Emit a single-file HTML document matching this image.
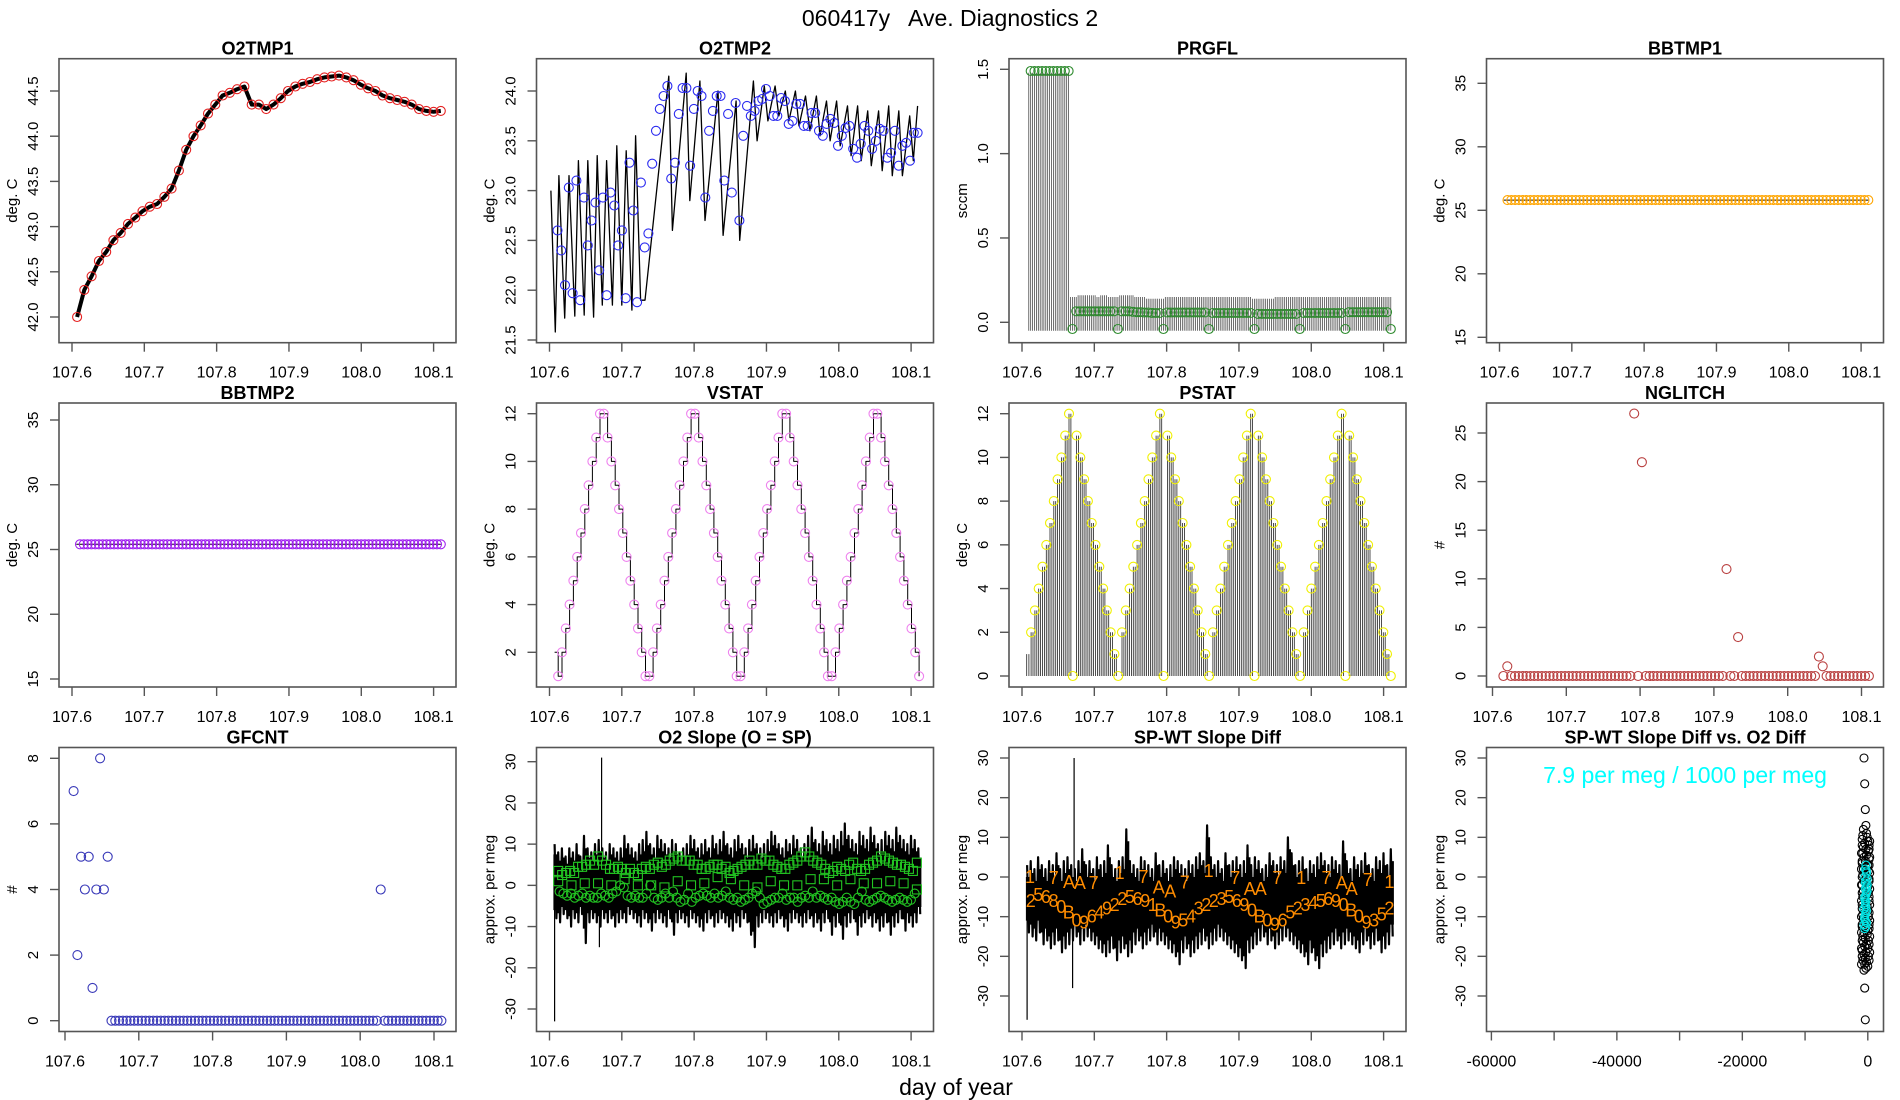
<!DOCTYPE html>
<html><head><meta charset="utf-8"><title>060417y Ave. Diagnostics 2</title>
<style>html,body{margin:0;padding:0;background:#fff}svg{display:block;font-family:"Liberation Sans",Arial,sans-serif}</style>
</head><body>
<svg id="root" width="1900" height="1100" viewBox="0 0 1900 1100" xmlns="http://www.w3.org/2000/svg">
<rect x="0" y="0" width="1900" height="1100" fill="#fff"/>
<text x="950" y="26" text-anchor="middle" font-size="23" fill="#000" style="white-space:pre">060417y   Ave. Diagnostics 2</text>
<text x="956" y="1095" text-anchor="middle" font-size="23" fill="#000">day of year</text>
</svg>
<script>
// ---------------- data ----------------
const dayTicks = [107.6, 107.7, 107.8, 107.9, 108.0, 108.1];
const dayTickLabels = ["107.6", "107.7", "107.8", "107.9", "108.0", "108.1"];

const o2t1Vals = [42.0,42.3,42.45,42.62,42.72,42.85,42.93,43.03,43.1,43.17,43.22,43.25,43.33,43.42,43.62,43.85,44.0,44.12,44.25,44.35,44.45,44.48,44.52,44.55,44.35,44.35,44.3,44.35,44.42,44.5,44.55,44.58,44.6,44.63,44.65,44.66,44.67,44.65,44.62,44.57,44.53,44.5,44.45,44.42,44.4,44.38,44.35,44.3,44.28,44.27,44.28];

const o2t2Times = [107.602,107.608,107.613,107.621,107.627,107.635,107.640,107.648,107.653,107.661,107.666,107.673,107.679,107.687,107.693,107.700,107.706,107.714,107.719,107.726,107.732,107.765,107.770,107.789,107.794,107.808,107.815,107.833,107.840,107.858,107.863,107.882,107.887,107.897,107.902,107.912,107.917,107.926,107.931,107.940,107.945,107.954,107.960,107.969,107.974,107.983,107.988,107.997,108.002,108.012,108.017,108.026,108.031,108.040,108.045,108.055,108.060,108.069,108.074,108.083,108.088,108.098,108.103,108.109];
const o2t2Vals = [23.0,21.58,23.15,21.72,23.15,21.74,23.3,21.75,23.3,21.73,23.35,21.85,23.3,21.85,23.45,21.85,23.4,21.8,23.55,21.9,21.9,24.15,22.6,24.18,22.9,24.1,22.7,24.0,22.55,23.9,22.5,24.1,23.5,24.05,23.7,24.05,23.75,24.0,23.7,24.0,23.65,23.95,23.6,23.95,23.55,23.9,23.5,23.9,23.45,23.85,23.35,23.85,23.3,23.8,23.25,23.8,23.2,23.85,23.15,23.8,23.15,23.75,23.3,23.85];
const o2t2Circles = [22.6,22.4,22.05,23.03,21.97,23.1,21.9,22.93,22.45,22.7,22.88,22.2,22.93,21.95,22.98,22.85,22.45,22.6,21.92,23.28,22.8,21.88,23.08,22.43,22.57,23.27,23.6,23.82,23.95,24.05,23.12,23.28,23.77,24.03,24.03,23.25,23.82,24.0,23.95,22.93,23.6,23.8,23.95,23.95,23.1,23.77,22.98,23.88,22.7,23.55,23.85,23.75,23.8,23.9,23.92,24.02,23.95,23.75,23.75,23.93,23.9,23.67,23.7,23.87,23.87,23.65,23.65,23.78,23.78,23.6,23.55,23.67,23.72,23.68,23.45,23.55,23.63,23.65,23.42,23.33,23.47,23.65,23.6,23.42,23.5,23.62,23.6,23.33,23.38,23.6,23.25,23.45,23.48,23.3,23.58,23.58];

const prgflVals = [1.49,1.49,1.49,1.49,1.49,1.49,1.49,1.49,1.49,1.49,1.49,-0.04,0.065,0.065,0.065,0.065,0.065,0.065,0.065,0.065,0.065,0.065,0.065,-0.04,0.065,0.065,0.065,0.062,0.06,0.06,0.058,0.058,0.056,0.055,0.055,-0.04,0.058,0.058,0.058,0.058,0.058,0.058,0.058,0.058,0.058,0.058,0.058,-0.04,0.055,0.055,0.055,0.055,0.055,0.055,0.055,0.055,0.055,0.055,0.055,-0.04,0.05,0.05,0.05,0.05,0.05,0.05,0.05,0.05,0.05,0.05,0.05,-0.04,0.055,0.055,0.055,0.055,0.055,0.055,0.055,0.055,0.055,0.055,0.055,-0.04,0.06,0.06,0.06,0.06,0.06,0.06,0.06,0.06,0.06,0.06,0.06,-0.04];
const prgflPeak = [1.48,1.48,1.48,1.48,1.48,1.48,1.48,1.48,1.48,1.48,1.48,0.15,0.15,0.16,0.16,0.16,0.16,0.16,0.15,0.16,0.16,0.15,0.15,0.15,0.16,0.16,0.16,0.16,0.15,0.15,0.15,0.14,0.14,0.14,0.14,0.14,0.15,0.15,0.15,0.15,0.15,0.15,0.15,0.15,0.15,0.15,0.15,0.15,0.15,0.15,0.15,0.15,0.15,0.15,0.15,0.15,0.15,0.15,0.15,0.14,0.14,0.14,0.14,0.14,0.14,0.15,0.15,0.15,0.15,0.15,0.15,0.15,0.15,0.15,0.15,0.15,0.15,0.15,0.15,0.15,0.15,0.15,0.15,0.15,0.15,0.15,0.15,0.15,0.15,0.15,0.15,0.15,0.15,0.15,0.15,0.15];
const prgflFloor = -0.05;

const bbtmp1Vals = [25.8,25.8,25.8,25.8,25.8,25.8,25.8,25.8,25.8,25.8,25.8,25.8,25.8,25.8,25.8,25.8,25.8,25.8,25.8,25.8,25.8,25.8,25.8,25.8,25.8,25.8,25.8,25.8,25.8,25.8,25.8,25.8,25.8,25.8,25.8,25.8,25.8,25.8,25.8,25.8,25.8,25.8,25.8,25.8,25.8,25.8,25.8,25.8,25.8,25.8,25.8,25.8,25.8,25.8,25.8,25.8,25.8,25.8,25.8,25.8,25.8,25.8,25.8,25.8,25.8,25.8,25.8,25.8,25.8,25.8,25.8,25.8,25.8,25.8,25.8,25.8,25.8,25.8,25.8,25.8,25.8,25.8,25.8,25.8,25.8,25.8,25.8,25.8,25.8,25.8,25.8,25.8,25.8,25.8,25.8,25.8];
const bbtmp2Vals = [25.4,25.4,25.4,25.4,25.4,25.4,25.4,25.4,25.4,25.4,25.4,25.4,25.4,25.4,25.4,25.4,25.4,25.4,25.4,25.4,25.4,25.4,25.4,25.4,25.4,25.4,25.4,25.4,25.4,25.4,25.4,25.4,25.4,25.4,25.4,25.4,25.4,25.4,25.4,25.4,25.4,25.4,25.4,25.4,25.4,25.4,25.4,25.4,25.4,25.4,25.4,25.4,25.4,25.4,25.4,25.4,25.4,25.4,25.4,25.4,25.4,25.4,25.4,25.4,25.4,25.4,25.4,25.4,25.4,25.4,25.4,25.4,25.4,25.4,25.4,25.4,25.4,25.4,25.4,25.4,25.4,25.4,25.4,25.4,25.4,25.4,25.4,25.4,25.4,25.4,25.4,25.4,25.4,25.4,25.4,25.4];

const vstatStart = 2;
const vstatVals = [1,2,3,4,5,6,7,8,9,10,11,12,12,11,10,9,8,7,6,5,4,3,2,1,1,2,3,4,5,6,7,8,9,10,11,12,12,11,10,9,8,7,6,5,4,3,2,1,1,2,3,4,5,6,7,8,9,10,11,12,12,11,10,9,8,7,6,5,4,3,2,1,1,2,3,4,5,6,7,8,9,10,11,12,12,11,10,9,8,7,6,5,4,3,2,1];
const pstatStart = 1;
const pstatVals = [2,3,4,5,6,7,8,9,10,11,12,0,11,10,9,8,7,6,5,4,3,2,1,0,2,3,4,5,6,7,8,9,10,11,12,0,11,10,9,8,7,6,5,4,3,2,1,0,2,3,4,5,6,7,8,9,10,11,12,0,11,10,9,8,7,6,5,4,3,2,1,0,2,3,4,5,6,7,8,9,10,11,12,0,11,10,9,8,7,6,5,4,3,2,1,0];

const nglitchVals = [0,1,0,0,0,0,0,0,0,0,0,0,0,0,0,0,0,0,0,0,0,0,0,0,0,0,0,0,0,0,0,0,0,0,27,0,22,0,0,0,0,0,0,0,0,0,0,0,0,0,0,0,0,0,0,0,0,0,11,0,0,4,0,0,0,0,0,0,0,0,0,0,0,0,0,0,0,0,0,0,0,0,2,1,0,0,0,0,0,0,0,0,0,0,0,0];
const gfcntVals = [7,2,5,4,5,1,4,8,4,5,0,0,0,0,0,0,0,0,0,0,0,0,0,0,0,0,0,0,0,0,0,0,0,0,0,0,0,0,0,0,0,0,0,0,0,0,0,0,0,0,0,0,0,0,0,0,0,0,0,0,0,0,0,0,0,0,0,0,0,0,0,0,0,0,0,0,0,0,0,0,0,4,0,0,0,0,0,0,0,0,0,0,0,0,0,0,0,0];

const o2Hi = [10,8,9,7,9,8,10,7,12,9,8,10,11,9,8,10,9,8,9,12,10,9,8,10,11,13,10,9,12,11,10,9,11,10,8,9,10,12,11,9,10,11,9,12,10,11,13,10,9,11,12,10,9,11,12,10,9,10,11,13,12,10,9,11,10,12,11,9,10,12,14,11,10,13,11,10,12,11,13,15,12,11,10,13,12,11,14,12,10,11,13,12,11,14,12,11,10,12,11,9];
const o2Lo = [-8,-9,-7,-8,-10,-8,-9,-7,-14,-9,-8,-9,-10,-8,-9,-8,-10,-9,-8,-9,-7,-8,-9,-10,-8,-9,-11,-9,-8,-9,-10,-8,-12,-9,-8,-9,-10,-8,-9,-10,-11,-9,-8,-10,-9,-8,-9,-10,-11,-9,-10,-8,-9,-12,-15,-10,-9,-8,-9,-10,-9,-8,-10,-11,-9,-8,-9,-10,-9,-8,-10,-9,-11,-9,-8,-12,-10,-9,-13,-10,-9,-8,-12,-10,-9,-8,-10,-9,-11,-10,-9,-12,-10,-9,-8,-11,-9,-10,-9,-7];
const o2SpikeT = [107.607, 107.672, 107.669];
const o2SpikeV = [-33, 31, -15];
const o2SqHi = [3.5,2.5,3,3.5,3,4.5,4.5,5,6,5,7,6,5,4,4,4.5,4,3,4,3,2.5,4,4.5,4,5,5.5,4.5,5,6,6.5,7,6,6,6,5,5,4,4,4.5,5,5,4,4.5,3,3.5,4,4.5,5,6,5,5,6.5,6,6,5,4.5,4,4,5,5.5,6,7,8,7,6,5.5,5,4,3,3.5,4.5,4,3.5,5,5.5,4,3.5,4,5,5.5,6,7,6.5,6,5.5,5,5,4.5,4,3.5,5.5];
const o2SqLo = [1,0,0.5,0.5,0,1.5,0,0,-0.5,1,0,0.5,2,1.5,0,-0.5,1,0,0,1.5,1.5,0,1.5,0.5,0.5,1,0.5,-1];
const o2Ci = [-1.5,-2,-2.5,-2,-3,-2.5,-2,-3,-2.5,-3,-3,-2,-2.5,-3,-2,-1.5,0,-0.5,-2.5,-3,-2.5,-3,-3,-2,0,-3,-3.5,-3,-2,-3,-1.5,-3,-4,-3.5,-2,-4,-3,-2.5,-2,-2.5,-3,-2,-3,-2.5,-1.5,-3,-3.5,-3,-4,-3.5,-3,-2,-1.5,-3,-4.5,-4,-3.5,-3,-3,-2,-3.5,-3,-3,-4,-3,-2.5,-3,-1.5,-3,-2.5,-3,-3.5,-3,-4,-4.5,-4,-3,-4,-4.5,-3,-1.5,-3.5,-4,-3.5,-3,-2.5,-3,-3.5,-4,-3.5,-3,-3.5,-4,-3.5,-2];

const spHi = [3,4,2,5,3,2,4,3,6,2,4,5,3,2,4,7,3,4,2,5,3,4,8,3,2,4,5,12,4,3,2,5,4,3,2,6,3,4,2,3,5,4,3,2,4,3,5,6,4,13,5,3,4,2,6,3,4,5,3,4,8,3,5,4,2,3,6,4,3,5,4,10,6,3,4,5,2,4,3,5,6,4,3,5,4,3,9,4,2,5,3,4,6,3,2,5,4,6,3,7];
const spLo = [-14,-15,-16,-14,-17,-16,-18,-17,-16,-19,-18,-17,-16,-15,-17,-16,-15,-16,-17,-18,-19,-20,-19,-18,-21,-19,-18,-20,-19,-17,-16,-18,-17,-16,-15,-17,-16,-17,-18,-19,-20,-22,-19,-18,-20,-19,-18,-17,-16,-18,-17,-16,-15,-16,-17,-18,-19,-20,-21,-23,-19,-18,-17,-16,-15,-17,-16,-18,-17,-16,-15,-16,-17,-18,-19,-20,-22,-19,-21,-23,-20,-19,-18,-17,-16,-18,-17,-16,-17,-18,-19,-17,-16,-18,-17,-16,-19,-18,-17,-15];
const spSpikeT = [107.607, 107.672, 107.670];
const spSpikeV = [-36, 30, -28];
const spTopT = [107.611,107.644,107.665,107.680,107.699,107.735,107.768,107.789,107.805,107.825,107.858,107.895,107.915,107.930,107.953,107.986,108.021,108.042,108.056,108.078,108.108];
const spTopCh = ["1","7","A","A","7","1","7","A","A","7","1","7","A","A","7","1","7","A","A","7","1"];
const spTopV = [0,-0.3,-1.2,-1.5,-1.5,1,0,-2.7,-3.7,-1.4,1.5,-0.2,-3,-3,-0.2,-0.3,-0.2,-1.5,-3,-0.8,-1.2];
const spLoCh = ["2","5","6","8","0","B","0","9","6","4","9","2","2","5","6","9","1","B","0","9","5","4","3","2","2","3","5","6","9","0","B","0","9","6","5","2","3","4","5","6","9","0","B","0","9","3","5","2"];
const spLoV = [-6,-4.5,-5,-6,-7.5,-9,-11,-11.5,-10,-9,-8,-7,-5.5,-5,-5.5,-6,-7,-8.5,-10,-11.5,-11,-10,-8,-7,-6,-5.5,-5,-6,-7,-8.5,-10,-11,-12,-11,-9,-8,-7,-6.5,-6,-5.5,-6,-7,-8.5,-10,-11.5,-11,-9.5,-8];

const scatTicks = [-60000,-50000,-40000,-30000,-20000,-10000,0];
const scatTickLabels = ["-60000","","-40000","","-20000","","0"];
const scatY = [30,23.5,17,13,12,11,10.5,10,9.5,9,8.5,8,7.5,7,6.5,6,5.5,5,4.5,4,3.5,3,2.5,2,1.5,1,0.5,0,-0.5,-1,-1.5,-2,-2.5,-3,-3.5,-4,-4.5,-5,-5.5,-6,-6.5,-7,-7.5,-8,-8.5,-9,-9.5,-10,-10.5,-11,-11.5,-12,-12.5,-13,-13.5,-14,-14.5,-15,-15.5,-16,-16.5,-17,-17.5,-18,-18.5,-19,-19.5,-20,-20.5,-21,-21.5,-22,-22.5,-23,-23.5,-28,-36];
const scatX = [-600,-500,-400,-300,-700,-200,-800,-100,-900,0,-500,200,-700,-300,100,-800,-200,-600,200,-400,-900,0,-300,-700,100,-500,-800,-100,200,-600,-300,-900,0,-400,-700,100,-200,-800,-500,200,-300,-900,-100,-600,0,-400,-800,100,-700,-200,-500,200,-900,-300,0,-600,-100,-800,-400,100,-700,-200,-500,0,-900,-300,-600,100,-400,-800,-200,-500,0,-300,-600,-500,-400];
const scatY2 = [9,7,5,3,1,-1,-3,-5,-7,-9,-11,-13,-15,-17,-19,-21,8,4,0,-4,-8,-12,-16,-20,6,2,-2,-6,-10,-14,-18,-22];
const scatX2 = [300,200,300,200,300,200,300,200,300,200,300,200,300,200,300,200,-900,-900,-900,-900,-900,-900,-900,-900,-1000,-1000,-1000,-1000,-1000,-1000,-1000,-1000];
const cyY = [3,2,1,0,-1,-2,-3,-4,-5,-6,-7,-8,-9,-10,-11,-12,-13,-0.5,-2.5,-4.5,-6.5,-8.5,-10.5,-12.5,1.5,-1.5,-3.5,-5.5,-7.5,-9.5,-11.5];
const cyX = [-300,-400,-200,-500,-300,-100,-400,-200,-500,-300,-400,-600,-300,-500,-400,-600,-500,-100,-200,-300,-400,-200,-500,-300,-200,-400,-100,-500,-300,-400,-200];

// ---------------- drawing ----------------
const NS = 'http://www.w3.org/2000/svg';
const root = document.getElementById('root');
const COLS = [59, 536.5, 1009, 1486.5], ROWS = [58.7, 403, 747.5], W = 397, H = 284;

function mk(tag, parent) { const e = document.createElementNS(NS, tag); parent.appendChild(e); return e; }
function mkX(L, r0, r1) { return v => L + r0 + (v - 107.6) / 0.5 * (r1 - r0); }
function mkY(v1, p1, v2, p2) { return v => p1 + (v - v1) * (p2 - p1) / (v2 - v1); }
function tAt(i, n, t0, t1) { return t0 + i * (t1 - t0) / (n - 1); }

function panel(cfg) {
  const g = mk('g', root);
  
  
  const L = COLS[cfg.c], T = ROWS[cfg.r], B = T + H;
  const plot = mk('g', g);
  
  
  const box = mk('rect', g);
  box.setAttribute('x', L); box.setAttribute('y', T); box.setAttribute('width', W); box.setAttribute('height', H);
  box.setAttribute('fill', 'none'); box.setAttribute('stroke', '#555'); box.setAttribute('stroke-width', '1.6');
  
  
  const ti = mk('text', g);
  ti.textContent = cfg.title;
  ti.setAttribute('x', L + W / 2); ti.setAttribute('y', T - 4);
  ti.setAttribute('text-anchor', 'middle'); ti.setAttribute('font-size', '18'); ti.setAttribute('font-weight', 'bold');
  
  
  const yl = mk('text', g);
  yl.textContent = cfg.ylab;
  yl.setAttribute('transform', 'translate(' + (L - 42) + ',' + (T + H / 2) + ') rotate(-90)');
  yl.setAttribute('text-anchor', 'middle'); yl.setAttribute('font-size', '15');
  
  
  cfg.yt.forEach((v, i) => {
    const y = cfg.y(v);
    const tk = mk('line', g);
    tk.setAttribute('x1', L - 9); tk.setAttribute('x2', L); tk.setAttribute('y1', y); tk.setAttribute('y2', y);
    tk.setAttribute('stroke', '#555'); tk.setAttribute('stroke-width', '1.4');
    
    
    const tl = mk('text', g);
    tl.textContent = cfg.ytl[i];
    tl.setAttribute('transform', 'translate(' + (L - 21) + ',' + y + ') rotate(-90)');
    tl.setAttribute('text-anchor', 'middle'); tl.setAttribute('font-size', '15');
    
    
  });
  const xt = cfg.xt || dayTicks, xtl = cfg.xtl || dayTickLabels;
  xt.forEach((v, i) => {
    const x = cfg.x(v);
    const tk = mk('line', g);
    tk.setAttribute('x1', x); tk.setAttribute('x2', x); tk.setAttribute('y1', B); tk.setAttribute('y2', B + 9);
    tk.setAttribute('stroke', '#555'); tk.setAttribute('stroke-width', '1.4');
    
    
    if (xtl[i]) {
      const tl = mk('text', g);
      tl.textContent = xtl[i];
      tl.setAttribute('x', x); tl.setAttribute('y', B + 35);
      tl.setAttribute('text-anchor', 'middle'); tl.setAttribute('font-size', '16');
      
      
    }
  });
  return plot;
}
function circ(p, x, y, col, r, name) {
  const c = mk('circle', p);
  c.setAttribute('cx', x.toFixed(1)); c.setAttribute('cy', y.toFixed(1)); c.setAttribute('r', r || 4.5);
  c.setAttribute('fill', 'none'); c.setAttribute('stroke', col); c.setAttribute('stroke-width', '1.1');
  
  
}
function poly(p, pts, col, sw, name) {
  const e = mk('polyline', p);
  e.setAttribute('points', pts.map(q => q[0].toFixed(1) + ',' + q[1].toFixed(1)).join(' '));
  e.setAttribute('fill', 'none'); e.setAttribute('stroke', col); e.setAttribute('stroke-width', sw);
  e.setAttribute('stroke-linejoin', 'round');
  
  
}
function vline(p, x, y1, y2, col, sw, name) {
  const e = mk('line', p);
  e.setAttribute('x1', x.toFixed(1)); e.setAttribute('x2', x.toFixed(1)); e.setAttribute('y1', y1.toFixed(1)); e.setAttribute('y2', y2.toFixed(1));
  e.setAttribute('stroke', col); e.setAttribute('stroke-width', sw);
  
  
}
function txt(p, x, y, s, col, size, name) {
  const e = mk('text', p);
  e.textContent = s;
  e.setAttribute('x', x.toFixed(1)); e.setAttribute('y', y.toFixed(1));
  e.setAttribute('text-anchor', 'middle'); e.setAttribute('dominant-baseline', 'central');
  e.setAttribute('font-size', size); e.setAttribute('fill', col);
  
  
}

// Panel 1: O2TMP1
(function () {
  const x = mkX(COLS[0], 13, 374.6), y = mkY(42.0, 317, 44.5, 91);
  const p = panel({ name: 'o2tmp1', c: 0, r: 0, title: 'O2TMP1', ylab: 'deg. C', x, y,
    yt: [42, 42.5, 43, 43.5, 44, 44.5], ytl: ['42.0', '42.5', '43.0', '43.5', '44.0', '44.5'] });
  const n = o2t1Vals.length;
  poly(p, o2t1Vals.map((v, i) => [x(tAt(i, n, 107.607, 108.11)), y(v)]), '#000', 4, 'o2tmp1-line');
  o2t1Vals.forEach((v, i) => circ(p, x(tAt(i, n, 107.607, 108.11)), y(v), '#e52020', 4.5, 'o2tmp1-point'));
})();

// Panel 2: O2TMP2
(function () {
  const x = mkX(COLS[1], 13, 374.6), y = mkY(24.0, 91, 21.5, 340);
  const p = panel({ name: 'o2tmp2', c: 1, r: 0, title: 'O2TMP2', ylab: 'deg. C', x, y,
    yt: [21.5, 22, 22.5, 23, 23.5, 24], ytl: ['21.5', '22.0', '22.5', '23.0', '23.5', '24.0'] });
  poly(p, o2t2Vals.map((v, i) => [x(o2t2Times[i]), y(v)]), '#000', 1.3, 'o2tmp2-line');
  const n = o2t2Circles.length;
  o2t2Circles.forEach((v, i) => circ(p, x(tAt(i, n, 107.611, 108.109)), y(v), '#2a2af0', 4.5, 'o2tmp2-point'));
})();

// Panel 3: PRGFL
(function () {
  const x = mkX(COLS[2], 13, 374.6), y = mkY(1.5, 69.3, 0, 322.3);
  const p = panel({ name: 'prgfl', c: 2, r: 0, title: 'PRGFL', ylab: 'sccm', x, y,
    yt: [0, 0.5, 1, 1.5], ytl: ['0.0', '0.5', '1.0', '1.5'] });
  const n = prgflPeak.length;
  const st = (108.11 - 107.612) / (n - 1);
  prgflPeak.forEach((v, i) => {
    for (let k = 0; k < 2; k++) {
      const t = tAt(i, n, 107.612, 108.11) - st / 2 + k * st / 2;
      vline(p, x(t), y(prgflFloor), y(v), '#333', 0.7, 'prgfl-bar');
    }
  });
  prgflVals.forEach((v, i) => circ(p, x(tAt(i, n, 107.612, 108.11)), y(v), '#2e8b2e', 4.5, 'prgfl-point'));
})();

// Panel 4: BBTMP1
(function () {
  const x = mkX(COLS[3], 13, 374.6), y = mkY(35, 83.3, 15, 337.3);
  const p = panel({ name: 'bbtmp1', c: 3, r: 0, title: 'BBTMP1', ylab: 'deg. C', x, y,
    yt: [15, 20, 25, 30, 35], ytl: ['15', '20', '25', '30', '35'] });
  const n = bbtmp1Vals.length;
  poly(p, [[x(107.606), y(bbtmp1Vals[0])]].concat(bbtmp1Vals.map((v, i) => [x(tAt(i, n, 107.611, 108.11)), y(v)])), '#000', 1, 'bbtmp1-line');
  bbtmp1Vals.forEach((v, i) => circ(p, x(tAt(i, n, 107.611, 108.11)), y(v), '#ffa500', 4.5, 'bbtmp1-point'));
})();

// Panel 5: BBTMP2
(function () {
  const x = mkX(COLS[0], 13, 374.6), y = mkY(35, 420, 15, 679);
  const p = panel({ name: 'bbtmp2', c: 0, r: 1, title: 'BBTMP2', ylab: 'deg. C', x, y,
    yt: [15, 20, 25, 30, 35], ytl: ['15', '20', '25', '30', '35'] });
  const n = bbtmp2Vals.length;
  poly(p, [[x(107.606), y(bbtmp2Vals[0])]].concat(bbtmp2Vals.map((v, i) => [x(tAt(i, n, 107.611, 108.11)), y(v)])), '#000', 1, 'bbtmp2-line');
  bbtmp2Vals.forEach((v, i) => circ(p, x(tAt(i, n, 107.611, 108.11)), y(v), '#a020f0', 4.5, 'bbtmp2-point'));
})();

// Panel 6: VSTAT
(function () {
  const x = mkX(COLS[1], 13, 374.6), y = mkY(12, 413.7, 2, 652.3);
  const p = panel({ name: 'vstat', c: 1, r: 1, title: 'VSTAT', ylab: 'deg. C', x, y,
    yt: [2, 4, 6, 8, 10, 12], ytl: ['2', '4', '6', '8', '10', '12'] });
  const n = vstatVals.length;
  const pts = [[x(107.607), y(vstatStart)], [x(tAt(0, n, 107.612, 108.111)), y(vstatStart)]];
  vstatVals.forEach((v, i) => {
    pts.push([x(tAt(i, n, 107.612, 108.111)), y(v)]);
    if (i < n - 1) pts.push([x(tAt(i + 1, n, 107.612, 108.111)), y(v)]);
  });
  poly(p, pts, '#000', 1, 'vstat-step-line');
  vstatVals.forEach((v, i) => circ(p, x(tAt(i, n, 107.612, 108.111)), y(v), '#ee82ee', 4.5, 'vstat-point'));
})();

// Panel 7: PSTAT
(function () {
  const x = mkX(COLS[2], 13, 374.6), y = mkY(12, 413.7, 0, 676);
  const p = panel({ name: 'pstat', c: 2, r: 1, title: 'PSTAT', ylab: 'deg. C', x, y,
    yt: [0, 2, 4, 6, 8, 10, 12], ytl: ['0', '2', '4', '6', '8', '10', '12'] });
  const n = pstatVals.length;
  const st = (108.11 - 107.6126) / (n - 1);
  vline(p, x(107.6065), y(0), y(pstatStart), '#222', 0.8, 'pstat-bar');
  vline(p, x(107.6095), y(0), y(pstatStart), '#222', 0.8, 'pstat-bar');
  pstatVals.forEach((v, i) => {
    for (let k = 0; k < 2; k++) {
      const t = tAt(i, n, 107.6126, 108.11) + k * st / 2;
      if (i === n - 1 && k > 0) continue;
      vline(p, x(t), y(0), y(v), '#222', 0.8, 'pstat-bar');
    }
  });
  pstatVals.forEach((v, i) => circ(p, x(tAt(i, n, 107.6126, 108.11)), y(v), '#f0f000', 4.5, 'pstat-point'));
})();

// Panel 8: NGLITCH
(function () {
  const x = mkX(COLS[3], 6, 375), y = mkY(25, 433, 0, 676);
  const p = panel({ name: 'nglitch', c: 3, r: 1, title: 'NGLITCH', ylab: '#', x, y,
    yt: [0, 5, 10, 15, 20, 25], ytl: ['0', '5', '10', '15', '20', '25'] });
  const n = nglitchVals.length;
  nglitchVals.forEach((v, i) => circ(p, x(tAt(i, n, 107.6148, 108.11)), y(v), '#b94040', 4.5, 'nglitch-point'));
})();

// Panel 9: GFCNT
(function () {
  const x = mkX(COLS[0], 6, 375), y = mkY(8, 758.3, 0, 1020.7);
  const p = panel({ name: 'gfcnt', c: 0, r: 2, title: 'GFCNT', ylab: '#', x, y,
    yt: [0, 2, 4, 6, 8], ytl: ['0', '2', '4', '6', '8'] });
  const n = gfcntVals.length;
  gfcntVals.forEach((v, i) => circ(p, x(tAt(i, n, 107.6116, 108.11)), y(v), '#3838b8', 4.5, 'gfcnt-point'));
})();

function noiseBand(p, x, y, hi, lo, name) {
  const n = hi.length, st = (108.11 - 107.607) / (n - 1);
  hi.forEach((v, i) => {
    const t = tAt(i, n, 107.607, 108.11);
    vline(p, x(t + st / 4), y(v * 0.75), y(lo[i] * 0.75), '#000', 4.2, name + '-core');
  });
  const pts = [];
  hi.forEach((v, i) => { const t = tAt(i, n, 107.607, 108.11); pts.push([x(t), y(v)]); pts.push([x(t + st / 2), y(lo[i])]); });
  poly(p, pts, '#000', 2.2, name);
}

// Panel 10: O2 Slope
(function () {
  const x = mkX(COLS[1], 13, 374.6), y = mkY(30, 761.7, -30, 1009);
  const p = panel({ name: 'o2-slope', c: 1, r: 2, title: 'O2 Slope (O = SP)', ylab: 'approx. per meg', x, y,
    yt: [-30, -20, -10, 0, 10, 20, 30], ytl: ['-30', '-20', '-10', '0', '10', '20', '30'] });
  noiseBand(p, x, y, o2Hi, o2Lo, 'o2-slope-noise');
  o2SpikeT.forEach((t, i) => vline(p, x(t), y(0), y(o2SpikeV[i]), '#000', 1.2, 'o2-slope-spike'));
  const g = '#22c422';
  o2SqHi.forEach((v, i) => { const cx = x(tAt(i, o2SqHi.length, 107.612, 108.108)), cy = y(v);
    const r = mk('rect', p); r.setAttribute('x', cx - 4.5); r.setAttribute('y', cy - 4.5); r.setAttribute('width', 9); r.setAttribute('height', 9);
    r.setAttribute('fill', 'none'); r.setAttribute('stroke', g); r.setAttribute('stroke-width', '1.1');
    
     });
  o2SqLo.forEach((v, i) => { const cx = x(tAt(i, o2SqLo.length, 107.612, 108.108)), cy = y(v);
    const r = mk('rect', p); r.setAttribute('x', cx - 4.5); r.setAttribute('y', cy - 4.5); r.setAttribute('width', 9); r.setAttribute('height', 9);
    r.setAttribute('fill', 'none'); r.setAttribute('stroke', g); r.setAttribute('stroke-width', '1.1');
    
     });
  o2Ci.forEach((v, i) => circ(p, x(tAt(i, o2Ci.length, 107.614, 108.105)), y(v), g, 4.5, 'o2-slope-circle-point'));
})();

// Panel 11: SP-WT Slope Diff
(function () {
  const x = mkX(COLS[2], 13, 374.6), y = mkY(30, 758, -30, 996);
  const p = panel({ name: 'spwt-slope-diff', c: 2, r: 2, title: 'SP-WT Slope Diff', ylab: 'approx. per meg', x, y,
    yt: [-30, -20, -10, 0, 10, 20, 30], ytl: ['-30', '-20', '-10', '0', '10', '20', '30'] });
  const n = spHi.length, st = (108.11 - 107.607) / (n - 1);
  spHi.forEach((v, i) => {
    const t = tAt(i, n, 107.607, 108.11);
    vline(p, x(t + st / 4), y(v - 3), y(spLo[i] + 3), '#000', 4.2, 'spwt-noise-core');
  });
  const pts = [];
  spHi.forEach((v, i) => { const t = tAt(i, n, 107.607, 108.11); pts.push([x(t), y(v)]); pts.push([x(t + st / 2), y(spLo[i])]); });
  poly(p, pts, '#000', 2.2, 'spwt-noise');
  spSpikeT.forEach((t, i) => vline(p, x(t), y(-8), y(spSpikeV[i]), '#000', 1.2, 'spwt-spike'));
  spTopT.forEach((t, i) => txt(p, x(t), y(spTopV[i]), spTopCh[i], '#ff8c00', 18, 'spwt-upper-label'));
  spLoCh.forEach((c, i) => txt(p, x(tAt(i, spLoCh.length, 107.612, 108.108)), y(spLoV[i]), c, '#ff8c00', 18, 'spwt-lower-label'));
})();

// Panel 12: scatter
(function () {
  const x = v => 1867.8 + v * (1867.8 - 1491.4) / 60000, y = mkY(30, 758, -30, 996);
  const p = panel({ name: 'spwt-vs-o2', c: 3, r: 2, title: 'SP-WT Slope Diff vs. O2 Diff', ylab: 'approx. per meg', x, y,
    yt: [-30, -20, -10, 0, 10, 20, 30], ytl: ['-30', '-20', '-10', '0', '10', '20', '30'], xt: scatTicks, xtl: scatTickLabels });
  const m = Math.min(scatX.length, scatY.length);
  for (let i = 0; i < m; i++) circ(p, x(scatX[i]), y(scatY[i]), '#000', 4, 'scatter-point');
  const m2 = Math.min(scatX2.length, scatY2.length);
  for (let i = 0; i < m2; i++) circ(p, x(scatX2[i]), y(scatY2[i]), '#000', 4, 'scatter-point');
  const m3 = Math.min(cyX.length, cyY.length);
  for (let i = 0; i < m3; i++) circ(p, x(cyX[i]), y(cyY[i]), '#00e5e5', 4, 'scatter-fit-point');
  const t = mk('text', p);
  t.textContent = '7.9 per meg / 1000 per meg';
  t.setAttribute('x', 1685); t.setAttribute('y', 783);
  t.setAttribute('text-anchor', 'middle'); t.setAttribute('font-size', '23'); t.setAttribute('fill', '#00ffff');
  
  
})();
</script>
</body></html>
